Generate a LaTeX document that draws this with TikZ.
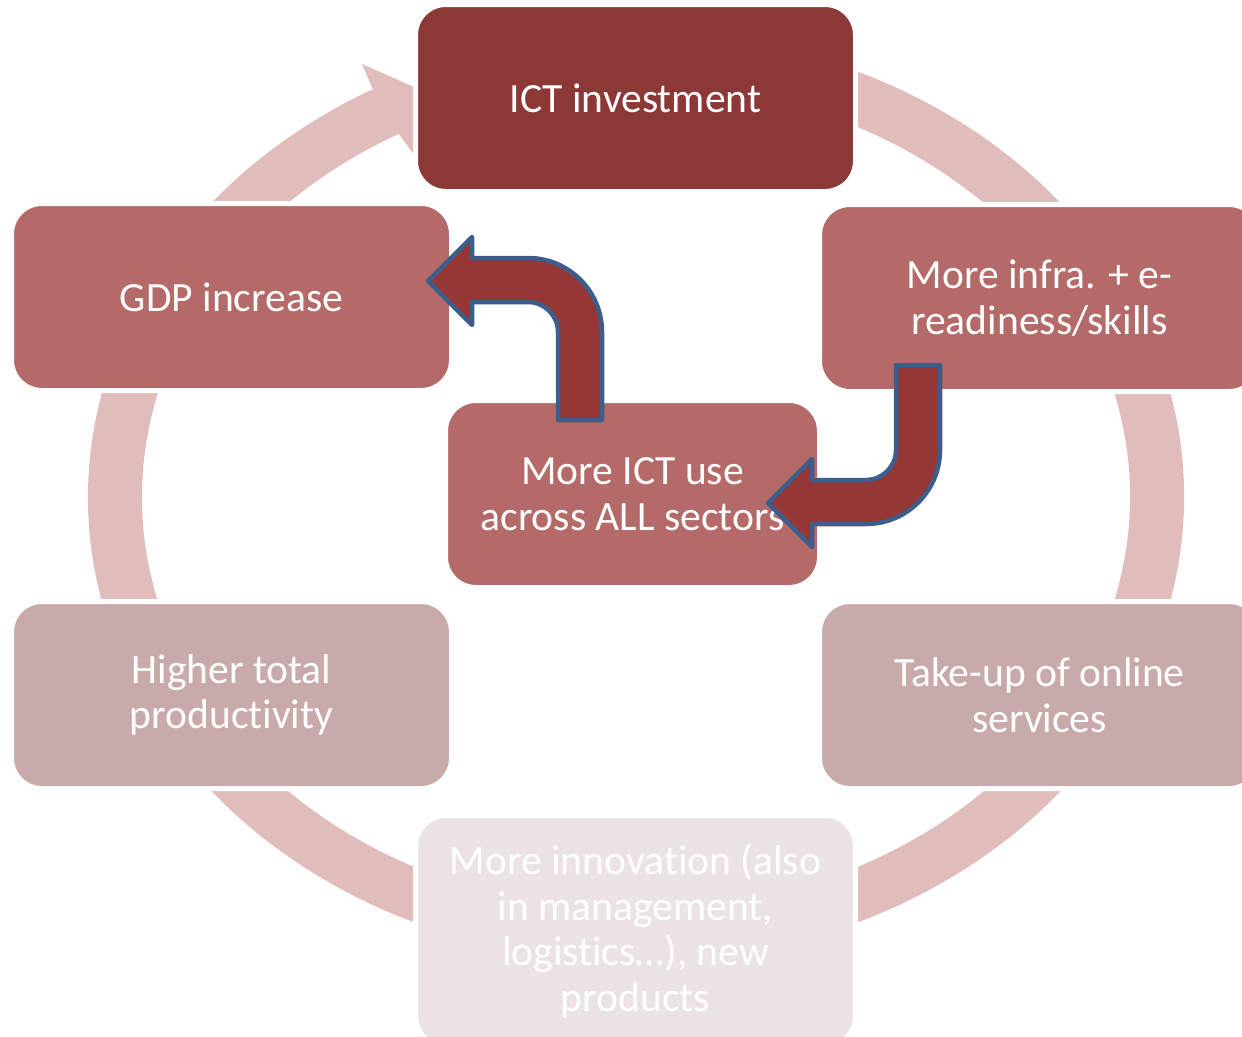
\documentclass[tikz,border=0pt]{standalone}
\usepackage{fontspec}
\setmainfont{Carlito}[Ligatures={NoCommon}]
\definecolor{ringc}{HTML}{E0BCBB}
\definecolor{dark}{HTML}{8C3837}
\definecolor{mid}{HTML}{B46A68}
\definecolor{light}{HTML}{C9AAAA}
\definecolor{faint}{HTML}{EBE3E3}
\definecolor{arrfill}{HTML}{953735}
\definecolor{arrline}{HTML}{3B5E8C}
\begin{document}
\begin{tikzpicture}[x=1pt,y=-1pt,
  box/.style={rounded corners=30.5pt, draw=white, line width=5pt, inner sep=0pt,
    align=center, text=white, minimum width=440pt, minimum height=187pt,
    font=\fontsize{41.6}{45.7}\selectfont},
  bent/.style={fill=arrfill, draw=arrline, line width=4.5pt, line join=round}]
\useasboundingbox (0,0) rectangle (1242,1036);
\clip (0,0) rectangle (1242,1036);
% circular arrow
\fill[ringc] (731.2,39.1) arc[start angle=-80, end angle=241.3, x radius=548, y radius=465]
  -- (362,64) -- (423,91) -- (415,156) -- (398.8,133.9)
  arc[start angle=241.3, end angle=-80, x radius=494, y radius=414] -- cycle;
% boxes
\node[box, fill=dark] (ict) at (635.5,98) {ICT investment};
\node[box, fill=mid] (infra) at (1039.5,298) {More infra. + e-\\readiness/skills};
\node[box, fill=light] (takeup) at (1039.5,695) {Take-up of online\\services};
\node[box, fill=faint, minimum height=231pt] (innov) at (635.5,931) {More innovation (also\\in management,\\logistics\ldots), new\\products};
\node[box, fill=light] (higher) at (231.5,695) {Higher total\\productivity};
\node[box, fill=mid] (gdp) at (231.5,297) {GDP increase};
\node[box, fill=mid, minimum width=374pt] (use) at (632.5,494) {More ICT use\\across ALL sectors};
% bent arrows
\draw[bent] (602,420) -- (602,332) arc[start angle=0, end angle=-90, radius=74]
  -- (472,258) -- (472,237) -- (428,281) -- (472,325) -- (472,302) -- (528,302)
  arc[start angle=-90, end angle=0, radius=30] -- (558,420) -- cycle;
\draw[bent] (896,365) -- (940,365) -- (940,450) arc[start angle=0, end angle=90, radius=74]
  -- (812,524) -- (812,547) -- (768,503) -- (812,459) -- (812,480) -- (866,480)
  arc[start angle=90, end angle=0, radius=30] -- (896,365) -- cycle;
\end{tikzpicture}
\end{document}
